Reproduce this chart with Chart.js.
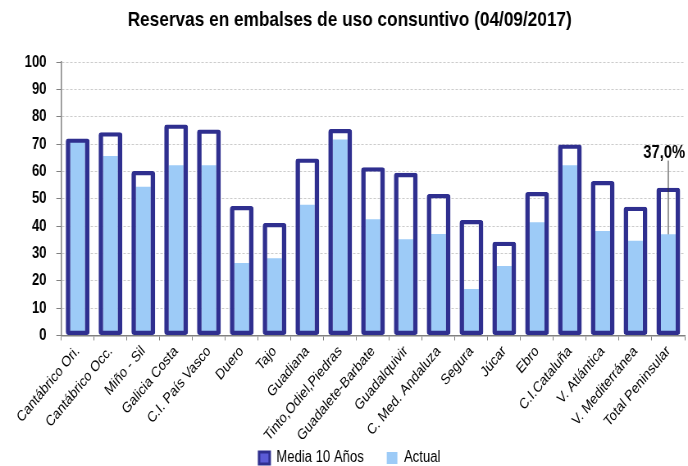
<!DOCTYPE html>
<html>
<head>
<meta charset="utf-8">
<script src="https://cdn.jsdelivr.net/npm/chart.js@4"></script>
<style>
  html, body { margin: 0; padding: 0; background: #fff; overflow: hidden; }
  /* el original está comprimido en horizontal: se dibuja a 839px y se estrecha */
  #wrap { width: 839px; height: 466px; position: relative; transform: scaleX(0.82); transform-origin: 0 0; }
</style>
</head>
<body>
<div id="wrap"><canvas id="grafico"></canvas></div>
<script>
// Reservas por cuenca (04/09/2017)
const cuencas = [
  'Cantábrico Ori.', 'Cantábrico Occ.', 'Miño - Sil', 'Galicia Costa', 'C.I. País Vasco',
  'Duero', 'Tajo', 'Guadiana', 'Tinto,Odiel,Piedras', 'Guadalete-Barbate',
  'Guadalquivir', 'C. Med. Andaluza', 'Segura', 'Júcar', 'Ebro',
  'C.I.Cataluña', 'V. Atlántica', 'V. Mediterránea', 'Total Peninsular'
];
const media10 = [72.1, 74.4, 60.2, 77.2, 75.4, 47.4, 41.2, 64.8, 75.6, 61.6, 59.5, 51.8, 42.3, 34.3, 52.5, 69.9, 56.5, 47.1, 54.1];
const actual  = [71.2, 65.7, 54.4, 62.3, 62.3, 26.5, 28.3, 47.8, 71.7, 42.5, 35.2, 37.1, 17.0, 25.4, 41.4, 62.3, 38.2, 34.7, 37.0];
const ticksY = [0, 10, 20, 30, 40, 50, 60, 70, 80, 90, 100];

const AZUL = '#2f2f8f';
const CELESTE = '#9dcbf7';
const SANS = "'Liberation Sans', Arial, sans-serif";

// Etiqueta del total peninsular con su línea
const etiquetaTotal = {
  id: 'etiquetaTotal',
  afterDatasetsDraw(chart) {
    const meta = chart.getDatasetMeta(1);
    const bar = meta.data[meta.data.length - 1];
    const y = chart.scales.y;
    const topLinea = y.getPixelForValue(64);
    const ctx = chart.ctx;
    ctx.save();
    ctx.strokeStyle = '#333';
    ctx.lineWidth = 1;
    ctx.beginPath();
    ctx.moveTo(bar.x, topLinea);
    ctx.lineTo(bar.x, bar.y);
    ctx.stroke();
    ctx.fillStyle = '#000';
    ctx.font = 'bold 18px ' + SANS;
    ctx.textAlign = 'center';
    ctx.textBaseline = 'bottom';
    const v = actual[actual.length - 1].toFixed(1).replace('.', ',') + '%';
    ctx.fillText(v, bar.x - 5, topLinea + 1);
    ctx.restore();
  }
};

// La leyenda ocupa poco alto pero se separan los elementos: se amplía su caja hacia arriba
const ajusteLeyenda = {
  id: 'ajusteLeyenda',
  afterLayout(chart) {
    chart.legend.top -= 25;
  }
};

new Chart(document.getElementById('grafico'), {
  type: 'bar',
  data: {
    labels: cuencas,
    datasets: [
      {
        label: 'Media 10 Años',
        data: media10,
        backgroundColor: 'rgba(255,255,255,0)',
        borderColor: AZUL,
        borderWidth: { left: 5.5, right: 5.5, top: 4.3, bottom: 4.3 },
        borderSkipped: false,
        borderRadius: 3,
        barPercentage: 0.725,
        categoryPercentage: 1
      },
      {
        label: 'Actual',
        data: actual,
        backgroundColor: CELESTE,
        borderWidth: 0,
        barPercentage: 0.45,
        categoryPercentage: 1
      }
    ]
  },
  options: {
    responsive: true,
    maintainAspectRatio: false,
    animation: false,
    grouped: false,
    layout: { padding: { left: 18, right: 4, top: 0, bottom: 0 } },
    plugins: {
      title: {
        display: true,
        text: 'Reservas en embalses de uso consuntivo (04/09/2017)',
        color: '#000',
        font: { family: SANS, size: 21, weight: 'bold' },
        padding: { top: 8, bottom: 29 }
      },
      legend: {
        position: 'bottom',
        maxHeight: 19,
        labels: {
          color: '#000',
          font: { family: SANS, size: 16 },
          boxWidth: 13,
          boxHeight: 12,
          padding: 28,
          generateLabels(chart) {
            const items = Chart.defaults.plugins.legend.labels.generateLabels(chart);
            items[0].fillStyle = '#5b5bd6';
            items[0].lineWidth = 3;
            items[1].fillStyle = CELESTE;
            items[1].strokeStyle = CELESTE;
            return items;
          }
        }
      },
      tooltip: { enabled: false }
    },
    scales: {
      x: {
        grid: { drawOnChartArea: false, drawTicks: true, tickLength: 5, color: '#808080', offset: true },
        border: { color: '#808080', width: 1.5 },
        ticks: {
          color: '#000',
          font: { family: SANS, size: 15 },
          minRotation: 45,
          maxRotation: 45,
          autoSkip: false,
          padding: 2
        }
      },
      y: {
        min: 0,
        max: 100,
        afterBuildTicks(scale) { scale.ticks = ticksY.map(v => ({ value: v })); },
        grid: { color: '#cccccc', tickLength: 6, tickColor: '#808080', tickBorderDash: [] },
        border: { color: '#808080', width: 1.5, dash: [3, 2] },
        ticks: {
          color: '#000',
          font: { family: SANS, size: 16, weight: 'bold' },
          padding: 12
        }
      }
    }
  },
  plugins: [etiquetaTotal, ajusteLeyenda]
});
</script>
</body>
</html>
